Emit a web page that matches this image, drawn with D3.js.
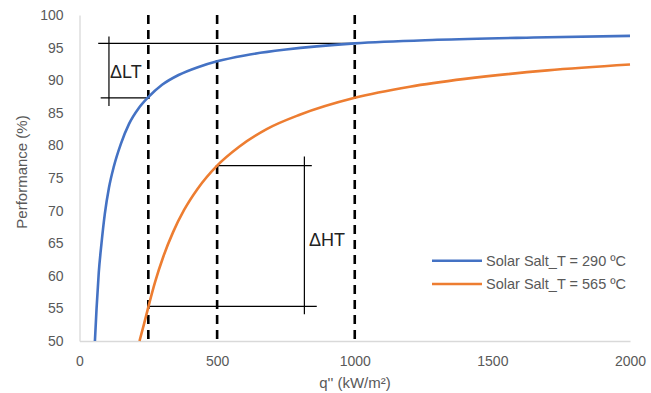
<!DOCTYPE html>
<html>
<head>
<meta charset="utf-8">
<script src="https://cdn.jsdelivr.net/npm/d3@7"></script>
<style>
  body { margin: 0; background: #fff; }
  svg { display: block; }
  text { font-family: "Liberation Sans", Arial, sans-serif; }
</style>
</head>
<body>
<svg id="chart" width="651" height="393"></svg>
<script>
// heat flux q'' (kW/m2) vs performance (%)
var blueQ = [56, 62, 70, 80, 92, 107, 125, 150, 180, 215, 250, 300, 360, 430, 500, 600, 750, 1000, 1300, 1650, 2000];
var blueP = [50, 55, 60.5, 65, 69.5, 73.5, 76.8, 80.2, 83.3, 85.7, 87.4, 89.3, 90.8, 92.0, 92.9, 93.8, 94.7, 95.65, 96.2, 96.55, 96.8];
var orangeQ = [218, 235, 250, 275, 305, 340, 380, 430, 500, 580, 680, 800, 1000, 1200, 1400, 1700, 2000];
var orangeP = [50, 52.7, 55.2, 59.1, 63.0, 66.7, 70.1, 73.4, 76.9, 79.8, 82.5, 84.7, 87.3, 89.0, 90.2, 91.5, 92.4];
var seriesNames = ["Solar Salt_T = 290 ºC", "Solar Salt_T = 565 ºC"];
var xTicks = [0, 500, 1000, 1500, 2000];
var yTicks = [50, 55, 60, 65, 70, 75, 80, 85, 90, 95, 100];
var markQ = [250, 500, 1000];

var svg = d3.select("#chart");
var x = d3.scaleLinear().domain([0, 2000]).range([79.5, 630]);
var y = d3.scaleLinear().domain([50, 100]).range([341, 15]);

var grey = "#595959";

// axes
var xAxis = svg.append("g").attr("transform", "translate(0," + y(50) + ")")
  .call(d3.axisBottom(x).tickValues(xTicks).tickFormat(d3.format("d")).tickSize(0).tickPadding(15));
xAxis.select(".domain").attr("stroke", "#d9d9d9").attr("stroke-width", 1.3);
xAxis.selectAll("text").attr("fill", grey).style("font-size", "14px");

var yAxis = svg.append("g").attr("transform", "translate(" + x(0) + ",0)")
  .call(d3.axisLeft(y).tickValues(yTicks).tickFormat(d3.format("d")).tickSize(0).tickPadding(16));
yAxis.select(".domain").attr("stroke", "#d9d9d9").attr("stroke-width", 1.3);
yAxis.selectAll("text").attr("fill", grey).style("font-size", "14px");

svg.append("text").attr("x", 355).attr("y", 388).attr("text-anchor", "middle")
  .attr("fill", grey).style("font-size", "15px").text("q'' (kW/m²)");
svg.append("text").attr("transform", "translate(27,172) rotate(-90)").attr("text-anchor", "middle")
  .attr("fill", grey).style("font-size", "15px").text("Performance (%)");

// dashed marker lines
svg.selectAll(".mark").data(markQ).enter().append("line")
  .attr("x1", function(d){ return x(d) }).attr("x2", function(d){ return x(d) })
  .attr("y1", y(100)).attr("y2", y(50))
  .attr("stroke", "#000").attr("stroke-width", 2.6).attr("stroke-dasharray", "9,6");

// delta annotation lines [q1, p1, q2, p2]
var annLines = [
  [68, 95.65, 1000, 95.65],
  [77, 87.3, 250, 87.3],
  [107, 96.7, 107, 86.05],
  [500, 76.9, 844, 76.9],
  [249, 55.3, 862, 55.3],
  [817, 78.3, 817, 54.1]
];
svg.selectAll(".ann").data(annLines).enter().append("line")
  .attr("x1", function(d){ return x(d[0]) }).attr("y1", function(d){ return y(d[1]) })
  .attr("x2", function(d){ return x(d[2]) }).attr("y2", function(d){ return y(d[3]) })
  .attr("stroke", "#000").attr("stroke-width", 1.2);

// curves
var line = d3.line().x(function(d){ return x(d[0]) }).y(function(d){ return y(d[1]) }).curve(d3.curveMonotoneX);
svg.append("path").datum(d3.zip(blueQ, blueP)).attr("d", line)
  .attr("fill", "none").attr("stroke", "#4472C4").attr("stroke-width", 2.6);
svg.append("path").datum(d3.zip(orangeQ, orangeP)).attr("d", line)
  .attr("fill", "none").attr("stroke", "#ED7D31").attr("stroke-width", 2.6);

// delta labels
svg.append("text").attr("x", x(111)).attr("y", y(91.3)).attr("dy", "0.35em")
  .attr("fill", "#222").style("font-size", "18px").text("ΔLT");
svg.append("text").attr("x", x(834)).attr("y", y(65.5)).attr("dy", "0.35em")
  .attr("fill", "#222").style("font-size", "18px").text("ΔHT");

// legend
var colors = ["#4472C4", "#ED7D31"];
var leg = svg.selectAll(".leg").data(seriesNames).enter().append("g")
  .attr("transform", function(d, i){ return "translate(432," + (260.7 + i * 23.3) + ")" });
leg.append("line").attr("x1", 0).attr("x2", 50).attr("stroke", function(d, i){ return colors[i] }).attr("stroke-width", 2.6);
leg.append("text").attr("x", 54).attr("dy", "0.35em").attr("fill", grey).style("font-size", "14.5px")
  .text(function(d){ return d });
</script>
</body>
</html>
